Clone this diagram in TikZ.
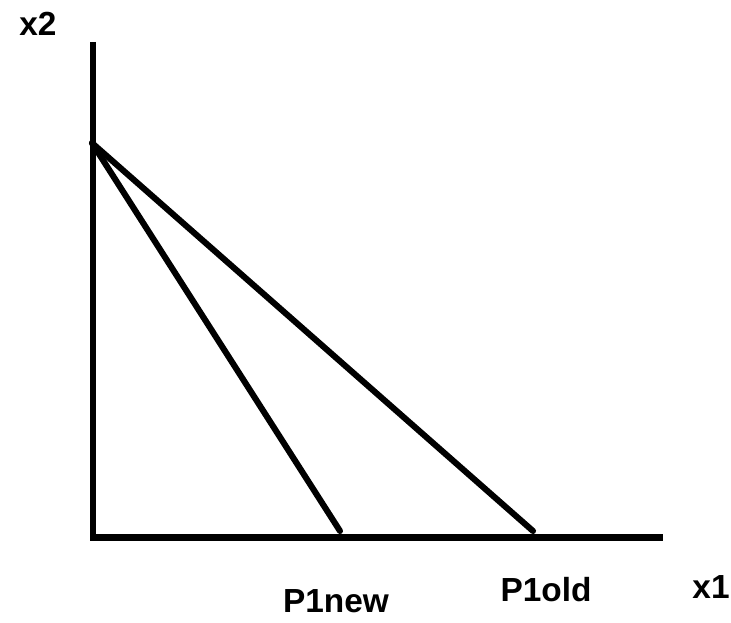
\documentclass[tikz,border=0pt]{standalone}
\usepackage{fontspec}
\setmainfont{Liberation Sans}
\usepackage{tikz}
\usetikzlibrary{positioning}
\definecolor{axisblack}{RGB}{0,0,0}

\tikzset{
  budget/.style={axisblack, line width=5.2pt, line cap=round},
  lbl/.style={axisblack, font=\fontsize{28.5}{31}\selectfont\bfseries, inner sep=0pt},
}

\begin{document}
\begin{tikzpicture}[x=0.03cm, y=-0.03cm]
\useasboundingbox[fill=white] (0,0) rectangle (731,623);

% axes
\coordinate (top) at (93,45);
\coordinate (origin) at (93,537.5);
\coordinate (right) at (663,537.5);
\draw[budget, line cap=butt] (93,42) -- (origin);
\draw[budget, line cap=butt] (90,537.5) -- (right);
\fill[axisblack] (93,45) circle (2.6);

% budget lines
\coordinate (icpt) at (92,143);
\coordinate (pnew) at (340,531);
\coordinate (pold) at (533,531);
\draw[budget] (icpt) -- (pnew);
\draw[budget] (icpt) -- (pold);

% labels
\node[lbl] (x2)    at (38,24)   {x2};
\node[lbl] (x1)    at (711,587) {x1};
\node[lbl] (p1new) at (336,601) {P1new};
\node[lbl] (p1old) at (546,590) {P1old};
\end{tikzpicture}
\end{document}
